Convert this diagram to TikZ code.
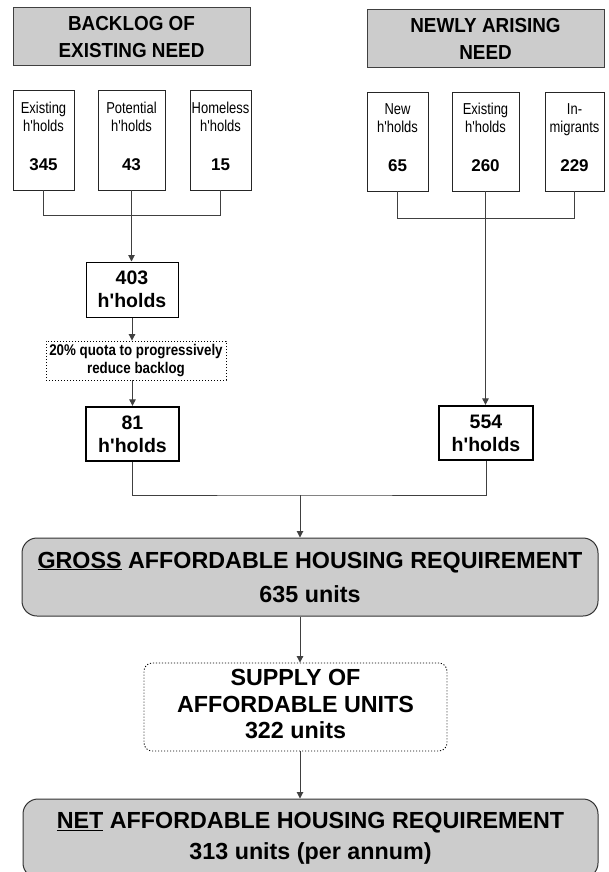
\documentclass[tikz,border=0pt]{standalone}
\usepackage{fontspec}
\setmainfont{Liberation Sans}[Ligatures=TeXOff]
\newfontfamily\narrowfont{Liberation Sans}[FakeStretch=0.82,Ligatures=TeXOff]
\newfontfamily\quotafont{Liberation Sans}[FakeStretch=0.86,Ligatures=TeXOff]
\newfontfamily\headfont{Liberation Sans}[FakeStretch=0.93,Ligatures=TeXOff]
\usetikzlibrary{arrows.meta}
\newcommand\numf{\rmfamily\bfseries\fontsize{17}{18}\selectfont}
\begin{document}
\begin{tikzpicture}[x=1pt,y=-1pt,
  conn/.style={draw=black!75, line width=1pt},
  arr/.style={conn, -{Triangle[length=6.5pt,width=6.5pt]}},
  header/.style={draw=black!75, fill=black!20, line width=1pt, inner sep=0pt, align=center,
    font=\headfont\bfseries\fontsize{20.3}{27.5}\selectfont, minimum width=237pt, minimum height=58pt},
  smallbox/.style={draw=black!85, fill=white, line width=0.9pt, inner sep=0pt, align=center,
    font=\narrowfont\fontsize{15.8}{18}\selectfont},
  hhbox/.style={draw=black, fill=white, line width=1pt, inner sep=0pt, align=center,
    font=\bfseries\fontsize{19.5}{23}\selectfont},
  thickbox/.style={hhbox, line width=2.3pt},
  quotabox/.style={draw=black, line width=0.9pt, dash pattern=on 1.1pt off 1.9pt, inner sep=0pt,
    align=center, font=\quotafont\bfseries\fontsize{15.5}{18}\selectfont},
  bigbox/.style={draw=black!80, fill=black!20, line width=1pt, rounded corners=15pt, inner sep=0pt,
    align=center, font=\bfseries\fontsize{23.3}{34}\selectfont},
  supplybox/.style={draw=black, line width=0.9pt, dash pattern=on 1.1pt off 1.9pt, rounded corners=8pt,
    inner sep=0pt, align=center, font=\bfseries\fontsize{23.3}{26.5}\selectfont}
]
\fill[white] (0,0) rectangle (608,872);
\useasboundingbox (0,0) rectangle (608,872);

% headers
\node[header] (hA) at (131.5,37) {BACKLOG OF\\EXISTING NEED};
\node[header] (hB) at (485.5,39) {NEWLY ARISING\\NEED};

% small boxes left
\node[smallbox, minimum width=61pt, minimum height=100pt] (e1) at (43.5,140)
  {Existing\\h'holds\\[21pt]\numf 345\rule[-8pt]{0pt}{8pt}};
\node[smallbox, minimum width=67pt, minimum height=100pt] (p1) at (131.5,140)
  {Potential\\h'holds\\[21pt]\numf 43\rule[-8pt]{0pt}{8pt}};
\node[smallbox, minimum width=61pt, minimum height=100pt] (ho) at (220.5,140)
  {Homeless\\h'holds\\[21pt]\numf 15\rule[-8pt]{0pt}{8pt}};

% small boxes right
\node[smallbox, minimum width=61pt, minimum height=99pt] (n1) at (397.5,141.5)
  {New\\h'holds\\[21pt]\numf 65\rule[-8pt]{0pt}{8pt}};
\node[smallbox, minimum width=67pt, minimum height=99pt] (e2) at (485.5,141.5)
  {Existing\\h'holds\\[21pt]\numf 260\rule[-8pt]{0pt}{8pt}};
\node[smallbox, minimum width=59pt, minimum height=99pt] (im) at (574.5,141.5)
  {In-\\migrants\\[21pt]\numf 229\rule[-8pt]{0pt}{8pt}};

% left column
\node[hhbox, minimum width=92pt, minimum height=55pt] (t403) at (132,289.5) {403\\h'holds};
\node[quotabox, minimum width=180pt, minimum height=39pt] (quota) at (136,360.5)
  {20\% quota to progressively\\reduce backlog};
\node[thickbox, minimum width=93pt, minimum height=54pt] (t81) at (132.5,434) {81\\h'holds};

% right column
\node[thickbox, minimum width=94pt, minimum height=54pt] (t554) at (486,433) {554\\h'holds};

% big boxes
\node[bigbox, minimum width=576pt, minimum height=78pt] (gross) at (310,577)
  {\underline{GROSS} AFFORDABLE HOUSING REQUIREMENT\\635 units};
\node[supplybox, minimum width=303pt, minimum height=88pt] (supply) at (295.5,707)
  {SUPPLY OF\\AFFORDABLE UNITS\\322 units\rule[-6pt]{0pt}{6pt}};
\node[bigbox, font=\bfseries\fontsize{23.3}{31}\selectfont, minimum width=575pt, minimum height=79pt] (net) at (310.5,838.5)
  {\underline{NET} AFFORDABLE HOUSING REQUIREMENT\\313 units (per annum)};

% coordinates
\coordinate (lb) at (132,215);
\coordinate (rb) at (485.5,218);
\coordinate (jn) at (300,495);

% connectors
\draw[conn] (e1.south) |- (ho.south |- lb) -- (ho.south);
\draw[conn] (p1.south) -- (p1.south |- lb);
\draw[arr] (p1.south |- lb) -- (p1.south |- t403.north);
\draw[arr] (t403.south) -- (t403.south |- quota.north);
\draw[arr] (t81.north |- quota.south) -- (t81.north);

\draw[conn] (n1.south) |- (im.south |- rb) -- (im.south);
\draw[conn] (e2.south) -- (e2.south |- rb);
\draw[arr] (e2.south |- rb) -- (e2.south |- t554.north);

\draw[conn] (t81.south) |- (jn) -| (t554.south);
\draw[arr] (jn) -- (jn |- gross.north);
\draw[arr] (jn |- gross.south) -- (jn |- supply.north);
\draw[arr] (jn |- supply.south) -- (jn |- net.north);
\end{tikzpicture}
\end{document}
